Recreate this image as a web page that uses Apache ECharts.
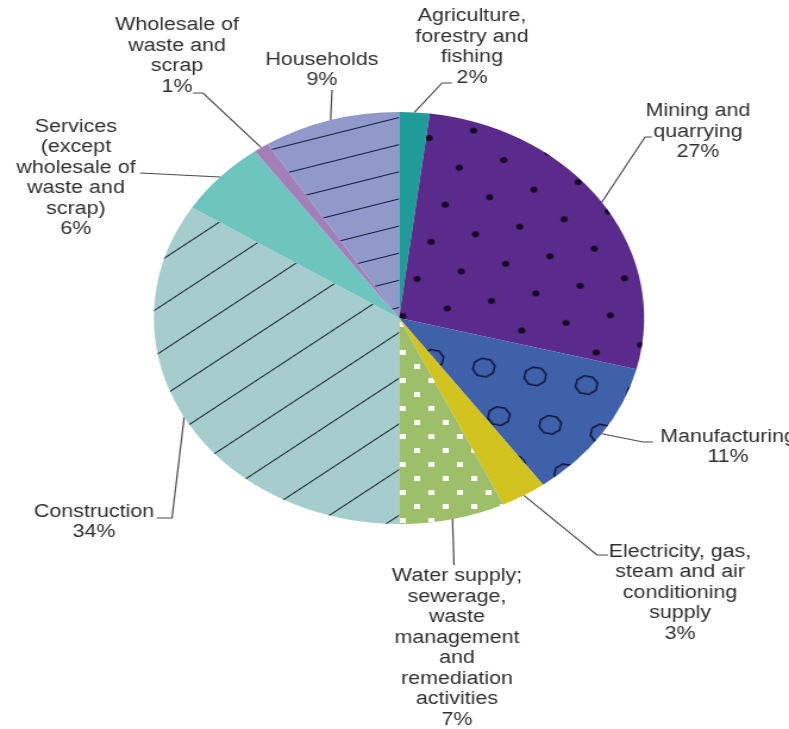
<!DOCTYPE html>
<html><head><meta charset="utf-8">
<script src="https://cdn.jsdelivr.net/npm/echarts/dist/echarts.min.js"></script>
<style>
html,body{margin:0;padding:0;background:#fff;overflow:hidden}
#frame{width:789px;height:729px;overflow:hidden;position:relative;background:#fff}
#chart{width:663px;height:729px;transform:scaleX(1.19005);transform-origin:0 0}
</style></head><body>
<div id="frame"><div id="chart"></div></div>
<script>
// ---- data ----
const categories = [
  'Agriculture, forestry and fishing',
  'Mining and quarrying',
  'Manufacturing',
  'Electricity, gas, steam and air conditioning supply',
  'Water supply; sewerage, waste management and remediation activities',
  'Construction',
  'Services (except wholesale of waste and scrap)',
  'Wholesale of waste and scrap',
  'Households'
];
const shares = [2, 27, 11, 3, 7, 34, 6, 1, 9];
const labelText = [
  ['Agriculture,', 'forestry and', 'fishing'],
  ['Mining and', 'quarrying'],
  ['Manufacturing'],
  ['Electricity, gas,', 'steam and air', 'conditioning', 'supply'],
  ['Water supply;', 'sewerage,', 'waste', 'management', 'and', 'remediation', 'activities'],
  ['Construction'],
  ['Services', '(except', 'wholesale of', 'waste and', 'scrap)'],
  ['Wholesale of', 'waste and', 'scrap'],
  ['Households']
];

// ---- styles / layout (not data) ----
const S = 789 / 663;            // horizontal stretch of the reference picture
const pieCx = 399 / S, pieCy = 318, pieR = 206;
const sliceColors = ['#1f9c97', '#5a2a8c', '#3f61a9', '#d3c31f', '#9dbf6a', '#a6cdcd', '#6ec4bf', '#a37fba', '#9199cb'];
const labelAt   = [[472, 47], [698, 132], [728, 447], [680, 593], [457, 648], [94, 522], [76, 178], [177, 56], [322, 70]];
const leaderKnee = [[442, 83], [645, 137], [643, 442], [597, 555], [454, 565], [172, 518], [140, 173], [203, 93], [332, 90]];
const leaderEnd  = [[452, 83], [652, 137], [653, 442], [608, 555], [454, 565], [157, 518], [140, 173], [193, 93], [332, 90]];

const octRing = 'path://M-3.83,-9.24L3.83,-9.24L9.24,-3.83L9.24,3.83L3.83,9.24L-3.83,9.24L-9.24,3.83L-9.24,-3.83Z' +
                'M-3.26,-7.85L-7.85,-3.26L-7.85,3.26L-3.26,7.85L3.26,7.85L7.85,3.26L7.85,-3.26L3.26,-7.85Z';
const decals = [
  null,
  { symbol: 'circle', symbolSize: 1, color: '#140a24', dashArrayX: [[6, 32], [0, 19, 6, 13]], dashArrayY: [6, 28], rotation: -0.2 },
  { symbol: octRing, symbolSize: 1, color: '#0c1238', dashArrayX: [[19, 25], [0, 22, 19, 3]], dashArrayY: [19, 26], rotation: 0.2 },
  null,
  { symbol: 'rect', symbolSize: 1, color: '#ffffff', dashArrayX: [[5, 19], [0, 12, 5, 7]], dashArrayY: [5, 9], rotation: 0 },
  { symbol: 'rect', symbolSize: 1, symbolKeepAspect: false, color: '#172424', dashArrayX: [[10, 0]], dashArrayY: [1, 35], rotation: -0.663 },
  null,
  null,
  { symbol: 'rect', symbolSize: 1, symbolKeepAspect: false, color: '#15183a', dashArrayX: [[10, 0]], dashArrayY: [1, 25], rotation: -0.29 }
];

const total = shares.reduce((a, b) => a + b, 0);

const chart = echarts.init(document.getElementById('chart'), null, { renderer: 'canvas' });
chart.setOption({
  backgroundColor: '#ffffff',
  animation: false,
  series: [{
    type: 'pie',
    center: [pieCx, pieCy],
    radius: pieR,
    startAngle: 90,
    clockwise: true,
    avoidLabelOverlap: false,
    silent: true,
    emphasis: { disabled: true },
    itemStyle: { borderWidth: 0 },
    data: categories.map((n, i) => {
      const it = { name: n, value: shares[i], itemStyle: { color: sliceColors[i] } };
      if (decals[i]) it.itemStyle.decal = decals[i];
      return it;
    }),
    label: {
      show: true,
      position: 'outside',
      formatter: p => labelText[p.dataIndex].concat(p.value + '%').map(t => '{c|' + t + '}').join('\n'),
      rich: {
        c: { align: 'center', fontSize: 18, lineHeight: 20.5, fontFamily: '"Liberation Sans", Arial, sans-serif', color: '#303030' }
      }
    },
    labelLine: { show: true, smooth: false, lineStyle: { color: '#4a4a4a', width: 1.2 } },
    labelLayout: function (p) {
      const i = p.dataIndex;
      let cum = 0;
      for (let k = 0; k < i; k++) cum += shares[k];
      const mid = (cum + shares[i] / 2) / total * 2 * Math.PI;
      const start = [pieCx + pieR * Math.sin(mid), pieCy - pieR * Math.cos(mid)];
      return {
        x: labelAt[i][0] / S,
        y: labelAt[i][1],
        align: 'center',
        verticalAlign: 'middle',
        labelLinePoints: [start, [leaderKnee[i][0] / S, leaderKnee[i][1]], [leaderEnd[i][0] / S, leaderEnd[i][1]]]
      };
    }
  }]
});
</script>
</body></html>
